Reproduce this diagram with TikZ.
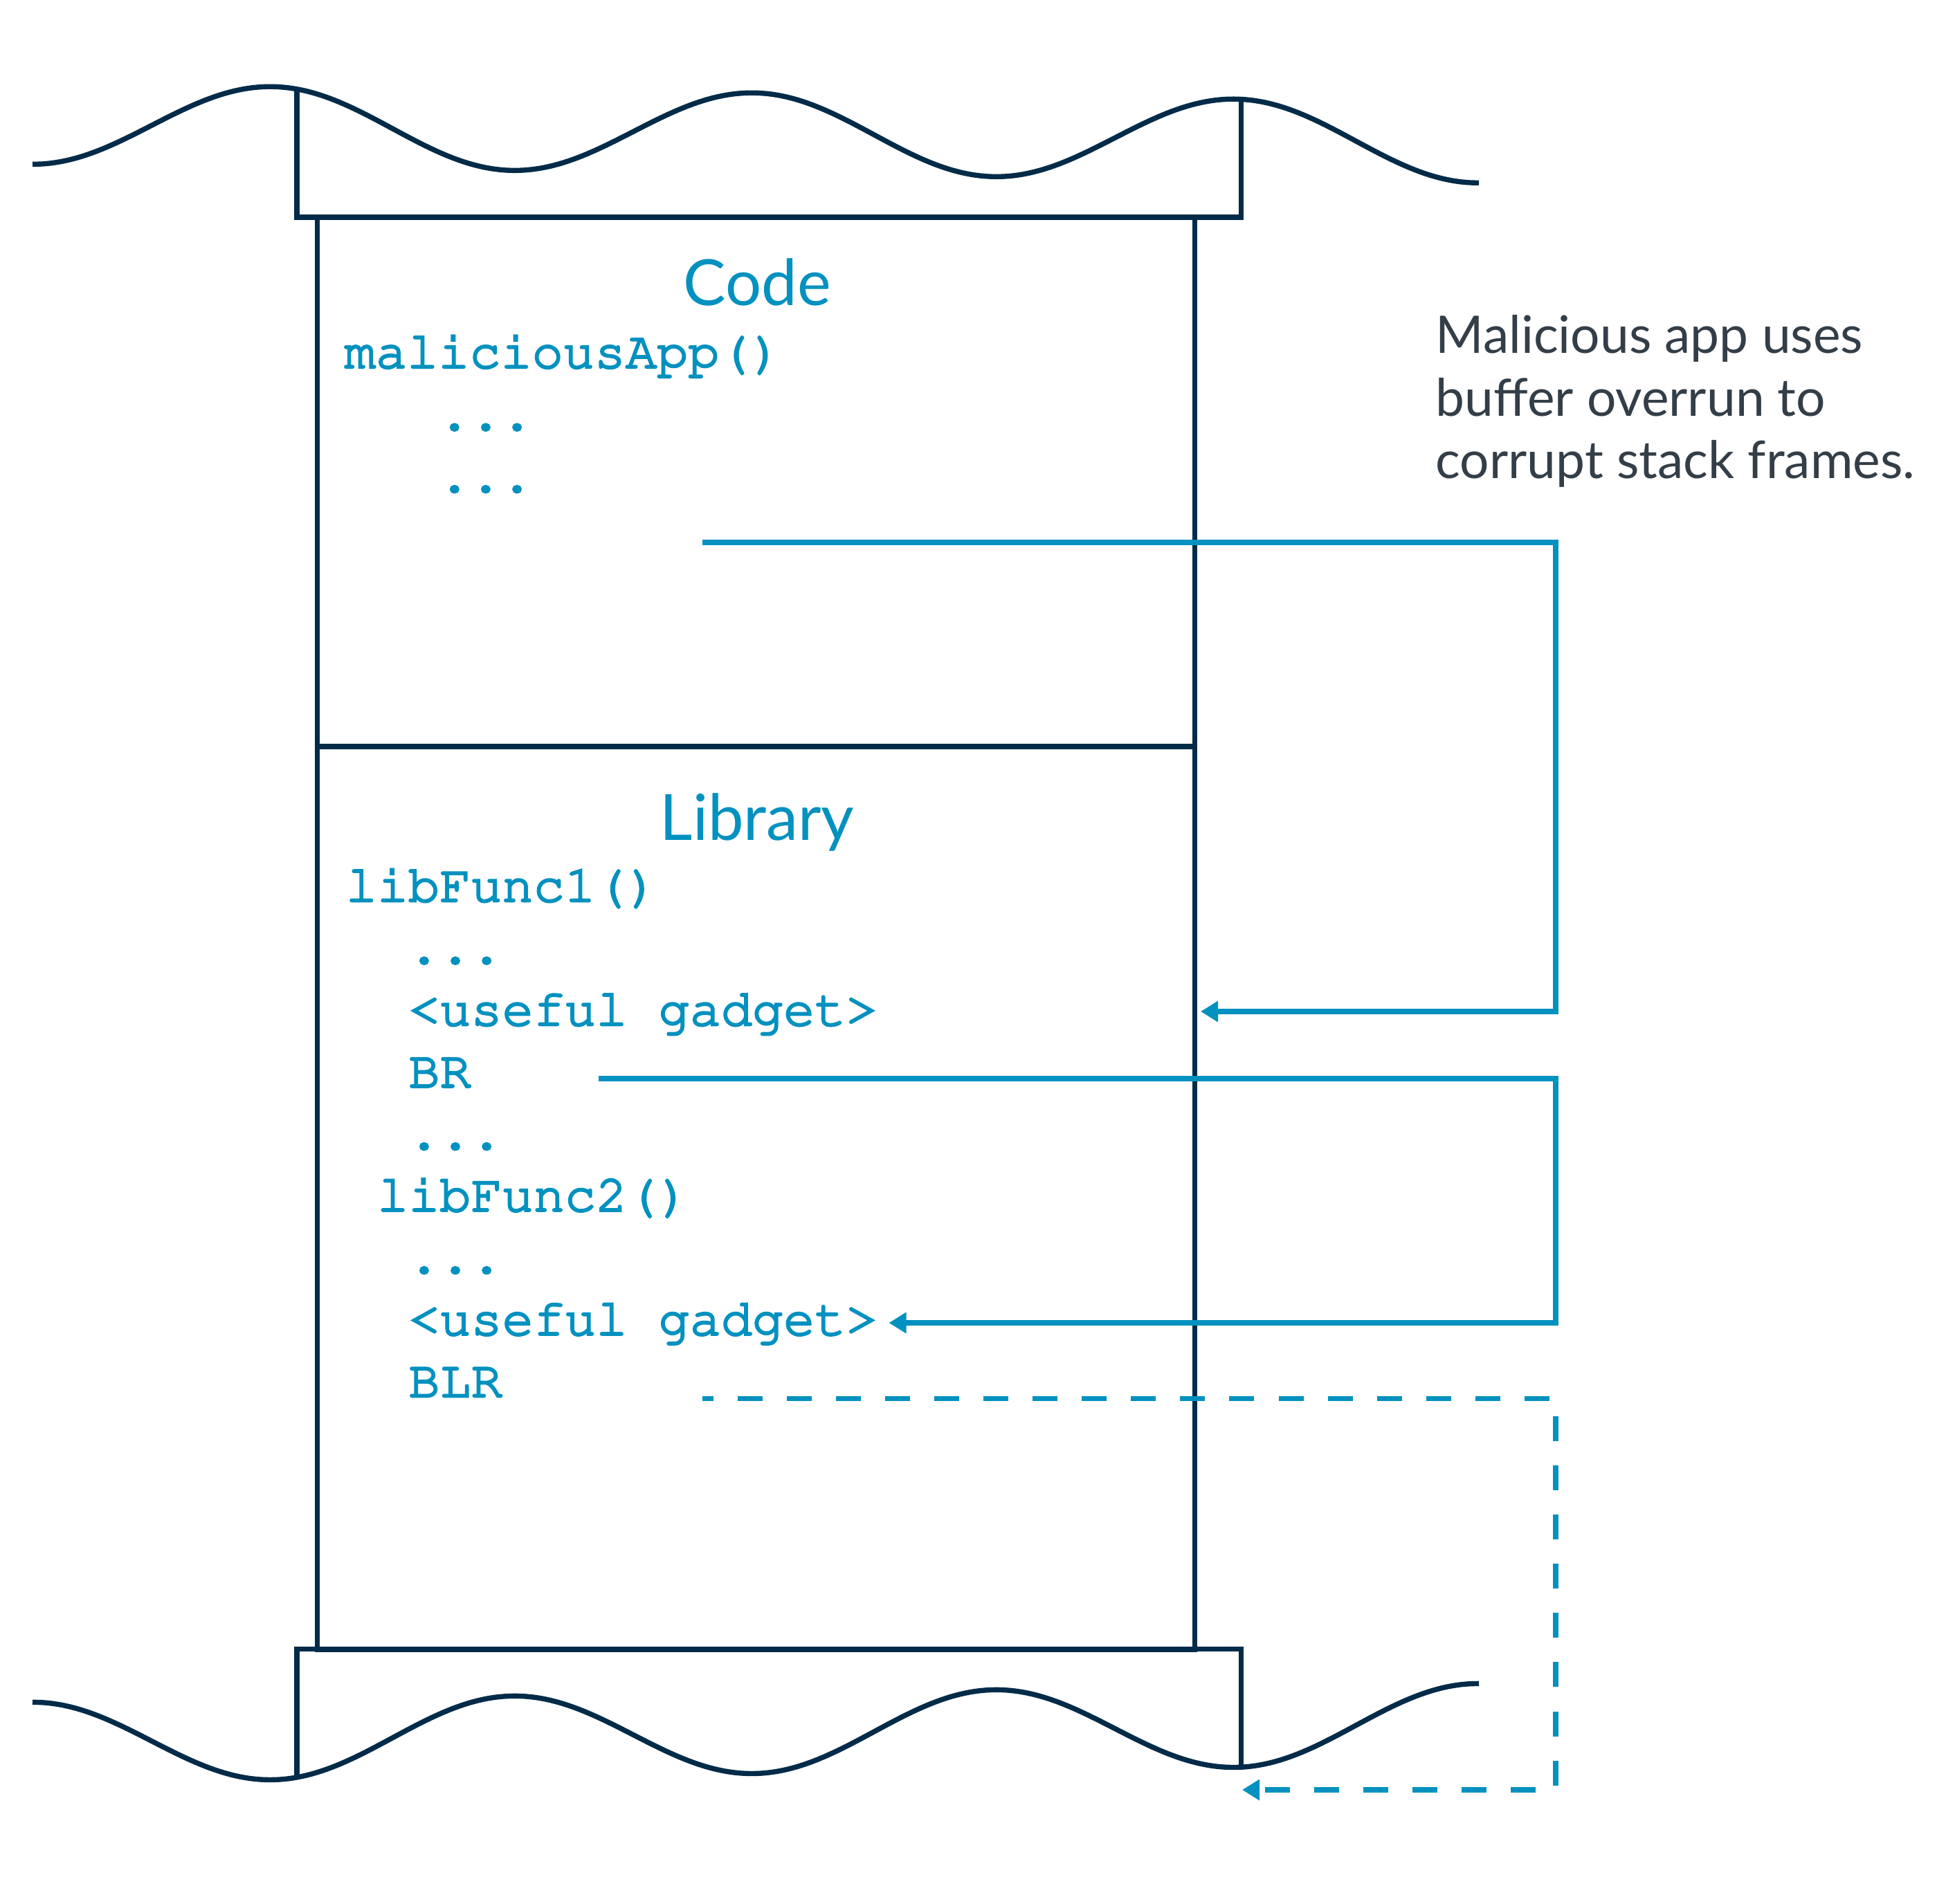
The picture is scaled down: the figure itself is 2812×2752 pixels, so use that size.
\documentclass[tikz,border=0pt]{standalone}
\usepackage[T1]{fontenc}
\usepackage{fontspec}
\setmainfont{Lato}
\usetikzlibrary{arrows.meta,positioning}

\definecolor{navy}{HTML}{012B48}
\definecolor{cyanblue}{HTML}{0391BF}
\definecolor{slate}{HTML}{333E48}

\newcommand{\codefont}{\fontencoding{T1}\fontfamily{pcr}\fontseries{m}\fontshape{n}\fontsize{21.4pt}{26pt}\selectfont}
\newcommand{\elide}{...}

\tikzset{
	wire/.style={draw=navy,line width=2.1pt},
	frame/.style={wire,inner sep=0pt,outer sep=0pt,anchor=north west,minimum width=12.675cm},
	title/.style={text=cyanblue,font=\fontsize{26.2pt}{30pt}\selectfont,inner sep=0pt,anchor=base},
	codeline/.style={text=cyanblue,font=\codefont,inner sep=0pt,anchor=base west,
		execute at begin node={\special{pdf:literal 2 Tr 0.75 w}},
		execute at end node={\special{pdf:literal 0 Tr}}},
	note/.style={text=slate,font=\fontsize{21.3pt}{26pt}\selectfont,inner sep=0pt,anchor=base west},
	flow/.style={draw=cyanblue,line width=2.2pt,-{Triangle[length=0.25cm,width=0.29cm]}},
}

\begin{document}
\begin{tikzpicture}[x=0.01cm,y=-0.01cm,
		declare function={wtop(\t)=179.1+0.0129*(\t-47)-58.3*cos(0.51724*(\t-393));}]
	\useasboundingbox (0,0) rectangle (2812,2752);

	% torn edges of the stack
	\draw[wire] plot[domain=47:2137,samples=160,smooth] (\x,{wtop(\x)});
	\draw[wire] plot[domain=47:2137,samples=160,smooth] (\x,{2697.7-wtop(\x)});
	\draw[wire] (429,{wtop(429)}) |- (1793.5,314) -- (1793.5,{wtop(1793.5)});
	\draw[wire] (429,{2697.7-wtop(429)}) |- (1793.5,2383.3) -- (1793.5,{2697.7-wtop(1793.5)});

	% the two frames
	\node[frame,minimum height=7.65cm] (codebox) at (458.5,314) {};
	\node[frame,minimum height=13.043cm] (libbox) at (458.5,1079) {};

	\node[title] (codetitle) at (1094,442) {Code};
	\node[title] (libtitle) at (1094,1214) {Library};

	\node[codeline] (app) at (497,531.7) {maliciousApp()};
	\node[codeline] (appdots1) at (633.5,621.5) {\elide};
	\node[codeline] (appdots2) at (633.5,711) {\elide};

	\foreach \txt/\ind [count=\i] in {libFunc1()/0,\elide/2,<useful gadget>/2,BR/2,\elide/2,libFunc2()/1,\elide/2,<useful gadget>/2,BLR/2}
		\node[codeline] (lib\i) at ({499+45.3*\ind},{1303+89.5*(\i-1)}) {\txt};

	\foreach \txt [count=\i] in {Malicious app uses,buffer overrun to,corrupt stack frames.}
		\node[note] (note\i) at (2074,{510.7+90.5*(\i-1)}) {\txt};

	% jumps
	\coordinate (bend) at (2248,0);
	\coordinate (jump1) at (1015,784);
	\coordinate (hit1) at (1735,1462);
	\coordinate (jump2) at (864.7,1558.7);
	\coordinate (hit2) at (1284.5,1912);
	\coordinate (jump3) at (1015,2021.5);
	\coordinate (hit3) at (1795,2587);
	\draw[flow] (jump1) -- (jump1 -| bend) |- (hit1);
	\draw[flow] (jump2) -- (jump2 -| bend) |- (hit2);
	\draw[flow,dash pattern=on 0.36cm off 0.35cm,dash phase=0.2cm] (jump3) -- (jump3 -| bend) |- (hit3);
\end{tikzpicture}
\end{document}
